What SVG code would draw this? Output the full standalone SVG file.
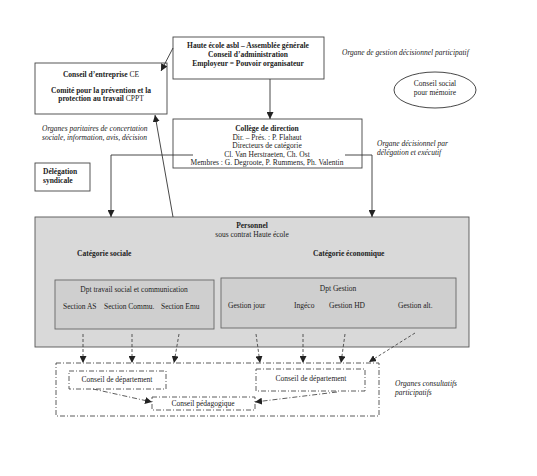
<svg xmlns="http://www.w3.org/2000/svg" width="537" height="476" viewBox="0 0 537 476">
<defs>
<marker id="ah" viewBox="0 0 10 10" refX="10" refY="5" markerWidth="7" markerHeight="7" orient="auto" markerUnits="userSpaceOnUse"><path d="M0,0 L10,5 L0,10 z" fill="#222"/></marker>
</defs>
<style>
text{font-family:"Liberation Serif","Times New Roman",serif;fill:#222;font-size:7.5px}
.b{font-weight:bold}
.i{font-style:italic}
.m{text-anchor:middle}
.box{fill:#fff;stroke:#444;stroke-width:0.9}
.gray{fill:#d9d9d9;stroke:#555;stroke-width:0.9}
.inner{fill:#cfcfcf;stroke:#666;stroke-width:0.9}
.dd{fill:none;stroke:#333;stroke-width:0.8;stroke-dasharray:5,2,1,2}
.ln{fill:none;stroke:#333;stroke-width:0.9}
.ds{fill:none;stroke:#333;stroke-width:0.8;stroke-dasharray:3,2}
</style>
<rect width="537" height="476" fill="#fff"/>

<g id="haute-ecole">
<rect class="box" x="173" y="37" width="151" height="42"/>
<text class="b m" x="248" y="48">Haute école asbl – Assemblée générale</text>
<text class="b m" x="248" y="57">Conseil d’administration</text>
<text class="b m" x="248" y="66">Employeur = Pouvoir organisateur</text>
</g>

<g id="conseil-entreprise">
<rect class="box" x="35" y="63" width="132" height="51"/>
<text class="b m" x="101" y="77">Conseil d’entreprise <tspan font-weight="normal">CE</tspan></text>
<text class="b m" x="101" y="93">Comité pour la prévention et  la</text>
<text class="b m" x="101" y="101">protection au travail <tspan font-weight="normal">CPPT</tspan></text>
</g>
<text class="i" x="42" y="131">Organes paritaires de concertation</text>
<text class="i" x="42" y="140">sociale, information, avis, décision</text>

<text class="i" x="342" y="55">Organe de gestion décisionnel participatif</text>

<g id="conseil-social">
<ellipse cx="435" cy="90" rx="41" ry="18" fill="#fff" stroke="#333" stroke-width="0.9"/>
<text class="m" x="435" y="86">Conseil social</text>
<text class="m" x="435" y="95">pour mémoire</text>
</g>

<g id="college">
<rect class="box" x="173" y="119" width="189" height="49"/>
<text class="b m" x="267" y="131">Collège de direction</text>
<text class="m" x="267" y="139.5">Dir. – Prés. : P. Flahaut</text>
<text class="m" x="267" y="148">Directeurs de catégorie</text>
<text class="m" x="267" y="156.5">Cl. Van Herstraeten, Ch. Ost</text>
<text class="m" x="267" y="165">Membres : G. Degroote, P. Rummens, Ph. Valentin</text>
</g>
<text class="i" x="377" y="146">Organe décisionnel par</text>
<text class="i" x="377" y="155">délégation et exécutif</text>

<g id="delegation">
<rect class="box" x="35" y="163" width="55" height="28"/>
<text class="b" x="43" y="174">Délégation</text>
<text class="b" x="43" y="183">syndicale</text>
</g>

<g id="personnel">
<rect class="gray" x="35" y="217" width="434" height="130"/>
<text class="b m" x="252" y="228">Personnel</text>
<text class="m" x="252" y="237" font-size="7">sous contrat Haute école</text>
<text class="b" x="77" y="256">Catégorie sociale</text>
<text class="b" x="313" y="256">Catégorie économique</text>
</g>

<g id="dpt-social">
<rect class="inner" x="55" y="280" width="159" height="49"/>
<text class="m" x="134" y="292">Dpt travail social et communication</text>
<text x="63" y="309">Section AS</text>
<text x="104" y="309">Section Commu.</text>
<text x="161" y="309">Section Emu</text>
</g>

<g id="dpt-gestion">
<rect class="inner" x="221" y="278" width="235" height="50"/>
<text class="m" x="338" y="291">Dpt Gestion</text>
<text x="228" y="308">Gestion jour</text>
<text x="294" y="308">Ingéco</text>
<text x="329" y="308">Gestion HD</text>
<text x="398" y="308">Gestion alt.</text>
</g>

<g id="organes-consultatifs">
<rect class="dd" x="56" y="363" width="323" height="53"/>
</g>
<g id="conseil-dept-1">
<rect class="dd" x="69" y="371" width="97" height="18"/>
<text class="m" x="117" y="382">Conseil de département</text>
</g>
<g id="conseil-dept-2">
<rect class="dd" x="256" y="369" width="109" height="22"/>
<text class="m" x="311" y="381">Conseil de département</text>
</g>
<g id="conseil-peda">
<rect class="dd" x="152" y="397" width="103" height="13"/>
<text class="m" x="203" y="406">Conseil pédagogique</text>
</g>
<text class="i" x="395" y="386">Organes consultatifs</text>
<text class="i" x="395" y="395">participatifs</text>

<g id="connectors">
<line class="ln" x1="173" y1="48" x2="161" y2="71" marker-end="url(#ah)"/>
<line class="ln" x1="270" y1="79" x2="270" y2="119" marker-end="url(#ah)"/>
<line class="ln" x1="173" y1="217" x2="155" y2="115" marker-end="url(#ah)"/>
<polyline class="ln" points="193,155 111,155 111,217" marker-end="url(#ah)"/>
<polyline class="ln" points="345,155 372,155 372,217" marker-end="url(#ah)"/>
<line class="ds" x1="83" y1="334" x2="83" y2="363" marker-end="url(#ah)"/>
<line class="ds" x1="132" y1="334" x2="132" y2="363" marker-end="url(#ah)"/>
<line class="ds" x1="179" y1="334" x2="174" y2="363" marker-end="url(#ah)"/>
<line class="ds" x1="256" y1="334" x2="260" y2="363" marker-end="url(#ah)"/>
<line class="ds" x1="303" y1="334" x2="303" y2="363" marker-end="url(#ah)"/>
<line class="ds" x1="345" y1="334" x2="341" y2="363" marker-end="url(#ah)"/>
<line class="ds" x1="415" y1="333" x2="369" y2="362" marker-end="url(#ah)"/>
<line class="dd" x1="93" y1="389" x2="152" y2="402" marker-end="url(#ah)"/>
<line class="dd" x1="337" y1="392" x2="255" y2="402" marker-end="url(#ah)"/>
</g>
</svg>
